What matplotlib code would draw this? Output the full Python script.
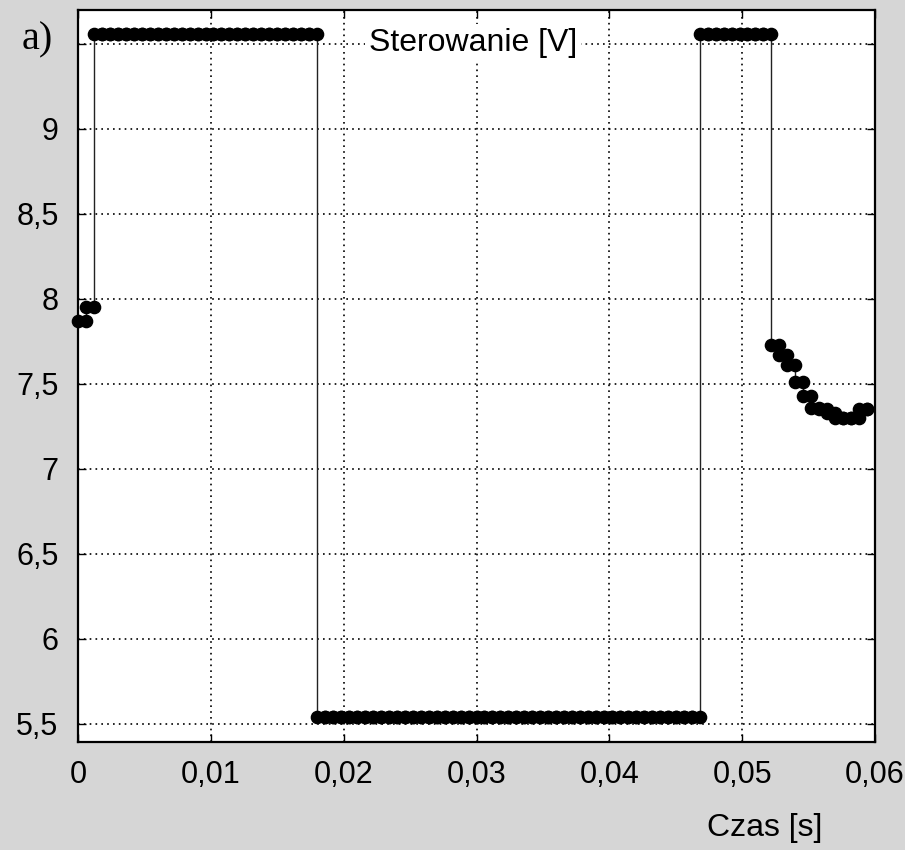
import matplotlib
matplotlib.use("Agg")
import matplotlib.pyplot as plt
import numpy as np

# sample period of the control signal [s]
sample_period = 0.0006
sample_index = list(range(100))

# control signal values [V] (one per sample)
values = ([7.87, 7.95] + [9.56] * 28 + [5.54] * 48 + [9.56] * 9 +
          [7.73, 7.67, 7.61, 7.51, 7.43, 7.36, 7.35, 7.33, 7.30, 7.30, 7.30, 7.35, 7.35])

x_ticks = [0, 0.01, 0.02, 0.03, 0.04, 0.05, 0.06]
x_tick_labels = ["0", "0,01", "0,02", "0,03", "0,04", "0,05", "0,06"]
y_ticks = [5.5, 6, 6.5, 7, 7.5, 8, 8.5, 9, 9.5]
y_tick_labels = ["5,5", "6", "6,5", "7", "7,5", "8", "8,5", "9", ""]

title = "Sterowanie [V]"
xlabel = "Czas [s]"
panel = "a)"

t = np.array(sample_index) * sample_period
v = np.array(values)

# step vertices (markers on both corners of each step)
mx = [t[0]]
my = [v[0]]
for i in range(1, len(t)):
    mx += [t[i], t[i]]
    my += [v[i - 1], v[i]]

plt.rcParams['font.family'] = ['Liberation Sans', 'DejaVu Sans']

fig = plt.figure(figsize=(9.05, 8.5), dpi=100)
fig.patch.set_facecolor('#d6d6d6')
ax = fig.add_axes([78 / 905, 1 - 742 / 850, (875 - 78) / 905, (742 - 10) / 850])
ax.set_facecolor('white')

ax.plot(mx, my, color='#222222', linewidth=1.0, zorder=3)
ax.plot(mx, my, linestyle='none', marker='o', markersize=8.8,
        markerfacecolor='black', markeredgecolor='black', zorder=4, clip_on=False)

ax.set_xlim(0, 0.06)
ax.set_ylim(5.394, 9.70)
ax.set_xticks(x_ticks)
ax.set_xticklabels(x_tick_labels)
ax.set_yticks(y_ticks)
ax.set_yticklabels(y_tick_labels)

ax.grid(True, color='black', linestyle=(0, (1, 2.5)), linewidth=1.2)
ax.tick_params(direction='in', length=6, width=1, top=True, right=True,
               labelsize=22, pad=13, colors='black')
ax.tick_params(axis='y', pad=14)
for s in ax.spines.values():
    s.set_linewidth(1.6)
    s.set_color('black')

fig.text(473 / 905, 1 - 43 / 850, title, fontsize=23, ha='center', va='center',
         bbox=dict(facecolor='white', edgecolor='none', pad=3))
fig.text(765 / 905, 1 - 828 / 850, xlabel, fontsize=23, ha='center', va='center')
fig.text(22 / 905, 1 - 40 / 850, panel, fontsize=29, ha='left', va='center',
         family=['Liberation Serif', 'DejaVu Serif'])

fig.savefig("out.png", dpi=100, facecolor=fig.get_facecolor())
